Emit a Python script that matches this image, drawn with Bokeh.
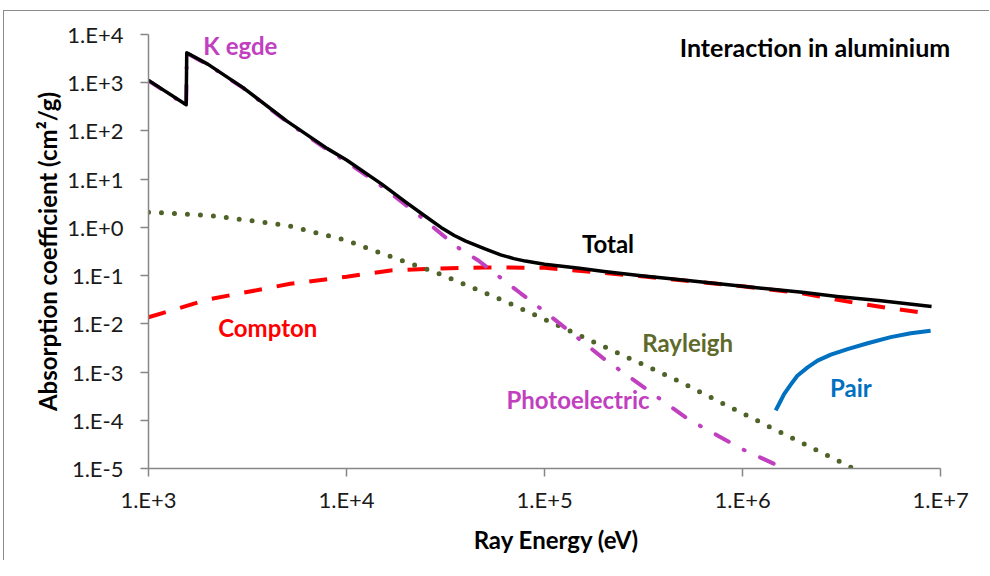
from bokeh.plotting import figure
from bokeh.models import Label, FixedTicker
from bokeh.embed import file_html
from bokeh.resources import INLINE

# ---- data (energy in eV, attenuation in cm^2/g) ----
total_e = [1.0e3, 1.55e3, 1.56e3, 2.0e3, 3.0e3, 5.0e3, 8.0e3, 1.0e4, 1.5e4, 2.0e4,
           2.5e4, 3.0e4, 3.5e4, 4.0e4, 5.0e4, 6.0e4, 7.0e4, 8.0e4, 1.0e5, 1.5e5,
           2.0e5, 3.0e5, 5.0e5, 1.0e6, 2.0e6, 3.0e6, 5.0e6, 9.0e6]
total_mu = [1.12e3, 3.5e2, 4.2e3, 2.4e3, 7.9e2, 1.6e2, 4.3e1, 2.5e1, 8.0, 3.3,
            1.7, 1.0, 0.68, 0.52, 0.36, 0.27, 0.225, 0.20, 0.172, 0.142,
            0.122, 0.10, 0.081, 0.060, 0.045, 0.037, 0.030, 0.0228]

photo_e = [1.0e3, 1.55e3, 1.56e3, 2.0e3, 3.0e3, 5.0e3, 8.0e3, 1.0e4, 1.5e4, 2.27e4,
           3.62e4, 4.63e4, 7.57e4, 1.0e5, 2.0e5, 5.36e5, 1.0e6, 1.62e6]
photo_mu = [1.10e3, 3.4e2, 4.1e3, 2.35e3, 7.8e2, 1.55e2, 4.1e1, 2.3e1, 7.2, 1.92,
            0.39, 0.206, 0.043, 0.018, 1.87e-3, 1.03e-4, 2.5e-5, 1.0e-5]

compton_e = [1.0e3, 2.0e3, 5.2e3, 1.0e4, 1.67e4, 2.55e4, 5.0e4, 1.0e5, 3.0e5,
             1.0e6, 2.0e6, 3.8e6, 5.6e6, 9.0e6]
compton_mu = [0.0137, 0.032, 0.0676, 0.095, 0.128, 0.138, 0.148, 0.145, 0.098,
              0.060, 0.043, 0.0267, 0.021, 0.0161]

rayleigh_e = [1.0e3, 2.0e3, 3.27e3, 5.0e3, 6.82e3, 1.0e4, 1.37e4, 2.81e4, 6.47e4,
              1.0e5, 4.34e5, 9.4e5, 3.63e6]
rayleigh_mu = [2.07, 1.77, 1.39, 1.1, 0.80, 0.54, 0.33, 0.118, 0.028,
               0.0124, 7.8e-4, 1.58e-4, 1.0e-5]

pair_e = [1.47e6, 1.53e6, 1.62e6, 1.75e6, 1.89e6, 2.13e6, 2.39e6, 2.79e6,
          3.39e6, 4.28e6, 5.6e6, 7.07e6, 8.9e6]
pair_mu = [1.6e-4, 2.2e-4, 3.5e-4, 5.5e-4, 8.4e-4, 1.25e-3, 1.73e-3, 2.3e-3,
           3.0e-3, 3.95e-3, 5.3e-3, 6.4e-3, 7.2e-3]

x_ticks = [1e3, 1e4, 1e5, 1e6, 1e7]
x_tick_labels = ["1.E+3", "1.E+4", "1.E+5", "1.E+6", "1.E+7"]
y_ticks = [1e-5, 1e-4, 1e-3, 1e-2, 1e-1, 1e0, 1e1, 1e2, 1e3, 1e4]
y_tick_labels = ["1.E-5", "1.E-4", "1.E-3", "1.E-2", "1.E-1",
                 "1.E+0", "1.E+1", "1.E+2", "1.E+3", "1.E+4"]

# curve labels: (text, x, y, color)
curve_labels = [
    ("K egde", 2.91e3, 6.0e3, "#C040C0"),
    ("Total", 2.09e5, 0.464, "#000000"),
    ("Compton", 4.0e3, 8.36e-3, "#FF0000"),
    ("Rayleigh", 5.28e5, 4.08e-3, "#5E6A2A"),
    ("Photoelectric", 1.476e5, 2.67e-4, "#C040C0"),
    ("Pair", 3.52e6, 4.75e-4, "#0070C0"),
    ("Interaction in aluminium", 2.32e6, 5.45e3, "#000000"),
]

FONT = "Lato"
X_AXIS_END = 1e7      # last labelled energy
X_VIEW_END = 1.32e7   # view extends a little past the axis end so the title fits

p = figure(width=989, height=560, x_axis_type="log", y_axis_type="log",
           x_range=(1e3, X_VIEW_END), y_range=(1e-5, 1e4),
           output_backend="svg", toolbar_location=None,
           min_border_left=148, min_border_right=25,
           min_border_top=34, min_border_bottom=92)

p.xgrid.visible = False
p.ygrid.visible = False
p.outline_line_color = None
p.background_fill_color = "white"
p.border_fill_color = None
p.styles = {
    "background": (
        "linear-gradient(to right, transparent 3px, #8c8c8c 3px, #8c8c8c 4.5px, "
        "transparent 4.5px) 0px 10px / 100% 100% no-repeat, "
        "linear-gradient(to bottom, transparent 10px, #8c8c8c 10px, #8c8c8c 11.5px, "
        "transparent 11.5px) 3px 0px / 100% 100% no-repeat, white"
    ),
}

p.line(compton_e, compton_mu, line_color="#FF0000", line_width=4, line_dash="18 15")
p.line(rayleigh_e, rayleigh_mu, line_color="#4F6228", line_width=5,
       line_dash="0 13", line_cap="round")
p.line(photo_e, photo_mu, line_color="#C040C0", line_width=4,
       line_dash="15 17 1 17", line_cap="round")
p.line(pair_e, pair_mu, line_color="#0070C0", line_width=4, line_join="round")
p.line(total_e, total_mu, line_color="#000000", line_width=3.5, line_join="round")

for ax, ticks, labels in ((p.xaxis[0], x_ticks, x_tick_labels),
                          (p.yaxis[0], y_ticks, y_tick_labels)):
    ax.ticker = FixedTicker(ticks=ticks, minor_ticks=[])
    ax.major_label_overrides = {t: l for t, l in zip(ticks, labels)}
    ax.axis_line_color = "#868686"
    ax.axis_line_width = 1.5
    ax.major_tick_line_color = "#868686"
    ax.major_tick_line_width = 1.5
    ax.major_tick_out = 8
    ax.major_tick_in = 0
    ax.minor_tick_out = 0
    ax.minor_tick_in = 0
    ax.major_label_text_font = FONT
    ax.major_label_text_font_size = "22px"
    ax.major_label_text_color = "#1a1a1a"
    ax.axis_label_text_font = FONT
    ax.axis_label_text_font_style = "bold"
    ax.axis_label_text_color = "#000000"

p.xaxis.bounds = (1e3, X_AXIS_END)
p.xaxis.axis_label = "Ray Energy (eV)"
p.yaxis.axis_label = "Absorption coefficient (cm\u00b2/g)"
p.xaxis.axis_label_text_font_size = "24px"
p.yaxis.axis_label_text_font_size = "24px"
p.xaxis.major_label_standoff = 9
p.xaxis.axis_label_standoff = 9
p.yaxis.major_label_standoff = 17
p.yaxis.axis_label_standoff = 2

for txt, lx, ly, col in curve_labels:
    size = "25px" if txt.startswith("Interaction") else "24px"
    p.add_layout(Label(x=lx, y=ly, text=txt, text_color=col, text_font=FONT,
                       text_font_size=size, text_font_style="bold",
                       text_align="center", text_baseline="middle"))

open("out.html", "w").write(file_html(p, INLINE))
